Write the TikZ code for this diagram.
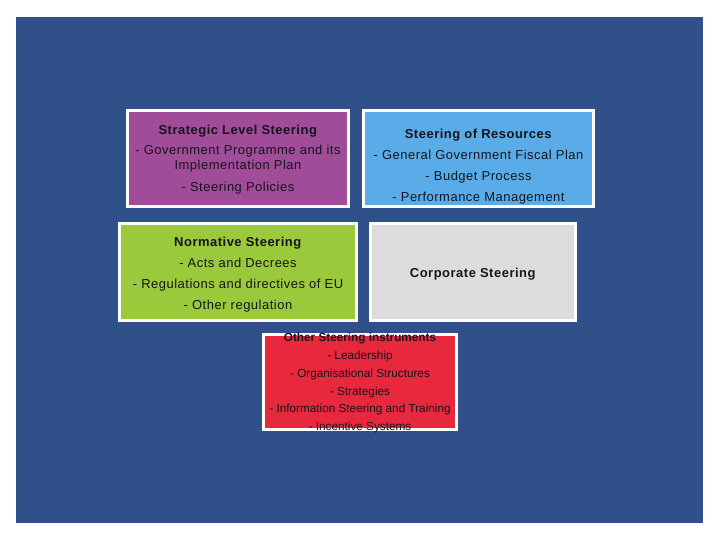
\documentclass[tikz,border=0pt]{standalone}
\usepackage{fontspec}
\setmainfont{Liberation Sans}
\newfontfamily\spacedfont{Liberation Sans}[LetterSpace=4]
\definecolor{bgblue}{RGB}{47,80,136}
\definecolor{cpurple}{RGB}{160,76,152}
\definecolor{clblue}{RGB}{90,172,232}
\definecolor{cgreen}{RGB}{155,201,60}
\definecolor{cgrey}{RGB}{220,220,220}
\definecolor{cred}{RGB}{232,40,60}
\definecolor{ctext}{RGB}{20,20,30}
\begin{document}
\begin{tikzpicture}[x=1bp,y=-1bp,
  box/.style={draw=white, line width=3bp, inner sep=0pt, rectangle},
  txt/.style={align=center, text=ctext, inner sep=0pt, font=\spacedfont\fontsize{13}{15}\selectfont},
  smalltxt/.style={align=center, text=ctext, inner sep=0pt, font=\fontsize{11.8}{18}\selectfont}]
\useasboundingbox (0,0) rectangle (720,540);
\fill[white] (0,0) rectangle (720,540);
\fill[bgblue] (16,17) rectangle (703,523);
% boxes
\node[box, fill=cpurple, minimum width=221bp, minimum height=96bp] (b1) at (238,158.5) {};
\node[box, fill=clblue, minimum width=230bp, minimum height=96bp] (b2) at (478.5,158.5) {};
\node[box, fill=cgreen, minimum width=237bp, minimum height=97bp] (b3) at (238,272) {};
\node[box, fill=cgrey, minimum width=205bp, minimum height=97bp] (b4) at (473,272) {};
\node[box, fill=cred, minimum width=193bp, minimum height=95bp] (b5) at (360,382) {};
% texts
\node[txt] (t1) at (238,159.5) {\textbf{Strategic Level Steering}\\[5bp]- Government Programme and its\\Implementation Plan\\[7bp]- Steering Policies};
\node[txt] (t2) at (478.5,166.5) {\textbf{Steering of Resources}\\[6bp]- General Government Fiscal Plan\\[6bp]- Budget Process\\[6bp]- Performance Management};
\node[txt] (t3) at (238,274.5) {\textbf{Normative Steering}\\[6bp]- Acts and Decrees\\[6bp]- Regulations and directives of EU\\[6bp]- Other regulation};
\node[txt] (t4) at (473,274) {\textbf{Corporate Steering}};
\node[smalltxt] (t5) at (360,383) {\textbf{Other Steering instruments}\\- Leadership\\- Organisational Structures\\- Strategies\\- Information Steering and Training\\- Incentive Systems};
\end{tikzpicture}
\end{document}
